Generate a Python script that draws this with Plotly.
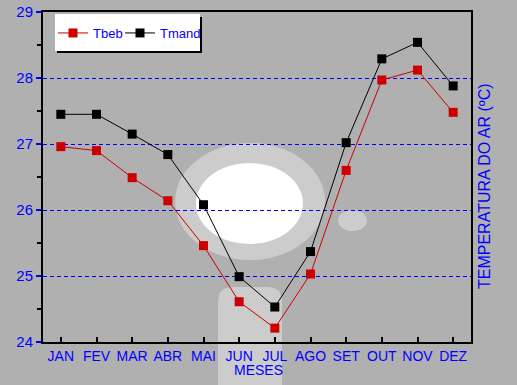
import plotly.graph_objects as go

months = ["JAN", "FEV", "MAR", "ABR", "MAI", "JUN", "JUL", "AGO", "SET", "OUT", "NOV", "DEZ"]
tbeb = [26.96, 26.90, 26.49, 26.14, 25.46, 24.61, 24.21, 25.03, 26.60, 27.97, 28.12, 27.48]
tmand = [27.45, 27.45, 27.15, 26.84, 26.08, 24.99, 24.53, 25.37, 27.02, 28.29, 28.54, 27.88]
y_ticks = [24, 25, 26, 27, 28, 29]

W, H = 517, 385
L, R, T, B = 43, 46, 12, 43
PW, PH = W - L - R, H - T - B


def px(x):
    return (x - L) / PW


def py(y):
    return (H - B - y) / PH


BLUE = "#0000ff"
FONT = "Liberation Sans, Arial, sans-serif"

fig = go.Figure()
fig.add_trace(go.Scatter(x=months, y=tbeb, name="Tbeb", mode="lines+markers", legend="legend",
                         line=dict(color="#cc0000", width=1),
                         marker=dict(symbol="square", size=9, color="#cc0000", line=dict(width=0))))
fig.add_trace(go.Scatter(x=months, y=tmand, name="Tmand", mode="lines+markers", legend="legend2",
                         line=dict(color="#000000", width=1),
                         marker=dict(symbol="square", size=9, color="#000000", line=dict(width=0))))

shapes = []
# decorative background blobs
shapes.append(dict(type="circle", xref="paper", yref="paper", layer="below",
                   x0=px(175), x1=px(325), y0=py(260), y1=py(143),
                   fillcolor="#cccccc", line=dict(width=0)))
shapes.append(dict(type="circle", xref="paper", yref="paper", layer="below",
                   x0=px(196), x1=px(303), y0=py(244), y1=py(163),
                   fillcolor="#ffffff", line=dict(width=0)))
shapes.append(dict(type="circle", xref="paper", yref="paper", layer="below",
                   x0=px(338), x1=px(367), y0=py(231), y1=py(210),
                   fillcolor="#cccccc", line=dict(width=0)))
path = (f"M {px(218)},{py(390)} L {px(218)},{py(302)} Q {px(218)},{py(287)} {px(233)},{py(287)} "
        f"L {px(267)},{py(287)} Q {px(282)},{py(287)} {px(282)},{py(302)} L {px(282)},{py(390)} Z")
shapes.append(dict(type="path", xref="paper", yref="paper", layer="below", path=path,
                   fillcolor="#cccccc", line=dict(width=0)))
# legend shadow and box
shapes.append(dict(type="rect", xref="paper", yref="paper", layer="above",
                   x0=px(57), x1=px(202), y0=py(53), y1=py(17),
                   fillcolor="#000000", line=dict(width=0)))
shapes.append(dict(type="rect", xref="paper", yref="paper", layer="above",
                   x0=px(55), x1=px(200), y0=py(51), y1=py(14),
                   fillcolor="#ffffff", line=dict(width=0)))

leg_common = dict(orientation="h", xanchor="left", yanchor="top",
                  bgcolor="rgba(0,0,0,0)", font=dict(size=13, color=BLUE),
                  itemwidth=30, tracegroupgap=0)

fig.update_layout(
    width=W, height=H,
    margin=dict(l=L, r=R, t=T, b=B, pad=0, autoexpand=False),
    paper_bgcolor="#b0b0b0",
    plot_bgcolor="rgba(0,0,0,0)",
    font=dict(family=FONT, size=14, color=BLUE),
    showlegend=True,
    legend=dict(x=px(53), y=py(18), **leg_common),
    legend2=dict(x=px(120), y=py(18), **leg_common),
    shapes=shapes,
    annotations=[
        dict(text="TEMPERATURA DO AR (ºC)", xref="paper", yref="paper",
             x=px(484), y=py(186), textangle=-90, showarrow=False,
             font=dict(size=16, color=BLUE), xanchor="center", yanchor="middle"),
        dict(text="MESES", xref="paper", yref="paper",
             x=px(258), y=py(370), showarrow=False,
             font=dict(size=14, color=BLUE), xanchor="center", yanchor="middle"),
    ],
)

fig.update_xaxes(
    type="category", range=[-0.5, 11.5], automargin=False,
    showline=True, linecolor="black", linewidth=2, mirror=True,
    ticks="inside", ticklen=5, tickcolor="black", tickwidth=1.5,
    showgrid=False, zeroline=False,
    tickfont=dict(size=14, color=BLUE),
)
fig.update_yaxes(
    range=[24, 29], tickvals=y_ticks, ticktext=[str(v) for v in y_ticks], automargin=False,
    showline=True, linecolor="black", linewidth=2, mirror=True,
    ticks="outside", ticklen=5, tickcolor=BLUE, tickwidth=1.5,
    showgrid=True, gridcolor=BLUE, gridwidth=1.2, griddash="4px,3px",
    zeroline=False,
    tickfont=dict(size=15, color=BLUE),
    minor=dict(ticks="outside", ticklen=4, tickcolor="black", dtick=0.5, showgrid=False),
)

fig.write_html("out.html", config={"displayModeBar": False},
               post_script="document.body.style.margin='0';document.body.style.background='#b0b0b0';")
